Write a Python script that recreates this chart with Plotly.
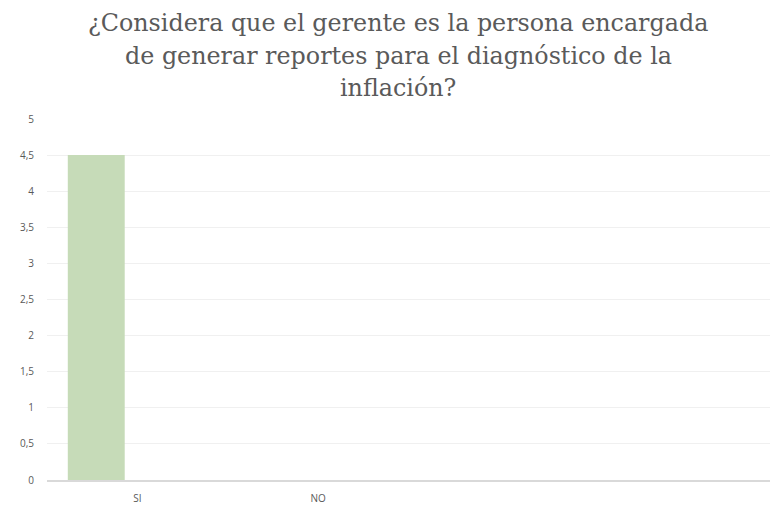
import plotly.graph_objects as go

categories = ["SI", "NO", " ", "  "]
values = [4.5, 0, None, None]
y_ticks = [0, 0.5, 1, 1.5, 2, 2.5, 3, 3.5, 4, 4.5, 5]
title_lines = [
    "¿Considera que el gerente es la persona encargada",
    "de generar reportes para el diagnóstico de la",
    "inflación?",
]

fig = go.Figure()
fig.add_trace(go.Bar(
    x=categories, y=values,
    marker=dict(color="#c6dbb8", line=dict(width=0)),
    width=0.315, offset=-0.385,
    showlegend=False,
))

top_px, bottom_px = 119, 480
line_centers_px = [23, 56, 88]
for line, ypx in zip(title_lines, line_centers_px):
    fig.add_annotation(
        text=line, xref="paper", yref="paper",
        x=(398 - 47) / (770 - 47), y=(bottom_px - ypx) / (bottom_px - top_px),
        xanchor="center", yanchor="middle", showarrow=False,
        font=dict(family="DejaVu Serif", size=23.8, color="#5a5a5a"),
    )

fig.update_layout(
    width=771, height=510,
    margin=dict(l=47, r=1, t=top_px, b=510 - bottom_px),
    paper_bgcolor="white", plot_bgcolor="white",
    separators=",.",
    xaxis=dict(
        type="category", categoryorder="array", categoryarray=categories,
        showgrid=False, showline=True, linecolor="#d9d9d9", linewidth=2,
        ticks="", ticklabelstandoff=8,
        tickfont=dict(family="Open Sans", size=10, color="#595959"),
    ),
    yaxis=dict(
        range=[0, 5], tickvals=y_ticks, showgrid=True, gridcolor="#f0f0f0",
        gridwidth=1, zeroline=False, showline=False, ticks="",
        ticklabelstandoff=12,
        tickfont=dict(family="Open Sans", size=10, color="#595959"),
    ),
)

fig.write_html("out.html")
